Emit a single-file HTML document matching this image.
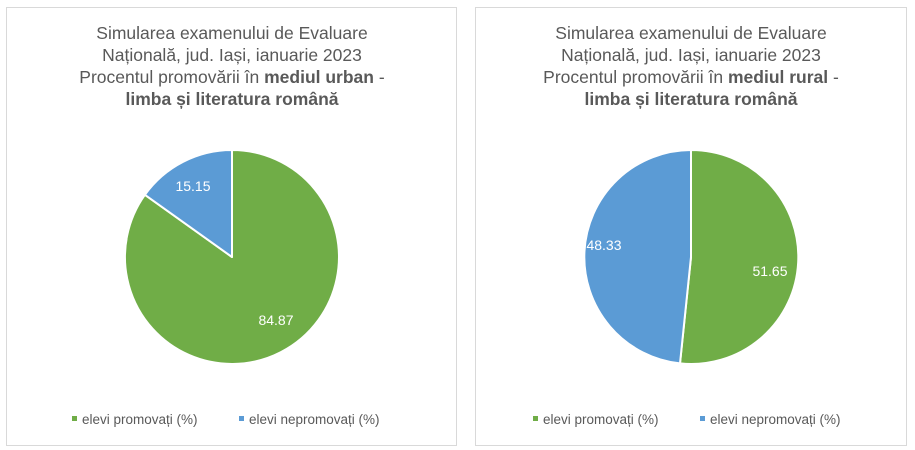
<!DOCTYPE html>
<html><head><meta charset="utf-8"><style>
html,body{margin:0;padding:0;background:#fff;}
svg{display:block;font-family:"Liberation Sans","DejaVu Sans",sans-serif;}
</style></head><body>
<svg width="915" height="450" viewBox="0 0 915 450" xmlns="http://www.w3.org/2000/svg">
<rect x="0" y="0" width="915" height="450" fill="#fff"/>
<rect x="6.5" y="7.5" width="450" height="438" fill="#fff" stroke="#d9d9d9" stroke-width="1"/>
<rect x="475.5" y="7.5" width="431" height="438" fill="#fff" stroke="#d9d9d9" stroke-width="1"/>
<g fill="#595959" font-size="17.5" text-anchor="middle">
<text x="232" y="39">Simularea examenului de Evaluare</text>
<text x="232" y="61">Națională, jud. Iași, ianuarie 2023</text>
<text x="232" y="83">Procentul promovării în <tspan font-weight="bold">mediul urban</tspan> -</text>
<text x="232" y="105" font-weight="bold">limba și literatura română</text>
<text x="691" y="39">Simularea examenului de Evaluare</text>
<text x="691" y="61">Națională, jud. Iași, ianuarie 2023</text>
<text x="691" y="83">Procentul promovării în <tspan font-weight="bold">mediul rural</tspan> -</text>
<text x="691" y="105" font-weight="bold">limba și literatura română</text>
</g>
<g stroke="#fff" stroke-width="2" stroke-linejoin="round">
<path d="M232,257 L232,150 A107,107 0 1 1 144.9,194.8 Z" fill="#70ad47"/>
<path d="M232,257 L144.9,194.8 A107,107 0 0 1 232,150 Z" fill="#5b9bd5"/>
<path d="M691,257 L691,150 A107,107 0 1 1 680.0,363.4 Z" fill="#70ad47"/>
<path d="M691,257 L680.0,363.4 A107,107 0 0 1 691,150 Z" fill="#5b9bd5"/>
</g>
<g fill="#fff" font-size="14" text-anchor="middle">
<text x="193" y="191">15.15</text>
<text x="276" y="325">84.87</text>
<text x="604" y="250">48.33</text>
<text x="770" y="276">51.65</text>
</g>
<g fill="#595959" font-size="13.5">
<rect x="72" y="416" width="5" height="5" fill="#70ad47"/>
<text x="82" y="424">elevi promovați (%)</text>
<rect x="239" y="416" width="5" height="5" fill="#5b9bd5"/>
<text x="249" y="424">elevi nepromovați (%)</text>
<rect x="533" y="416" width="5" height="5" fill="#70ad47"/>
<text x="543" y="424">elevi promovați (%)</text>
<rect x="700" y="416" width="5" height="5" fill="#5b9bd5"/>
<text x="710" y="424">elevi nepromovați (%)</text>
</g>
</svg>
</body></html>
